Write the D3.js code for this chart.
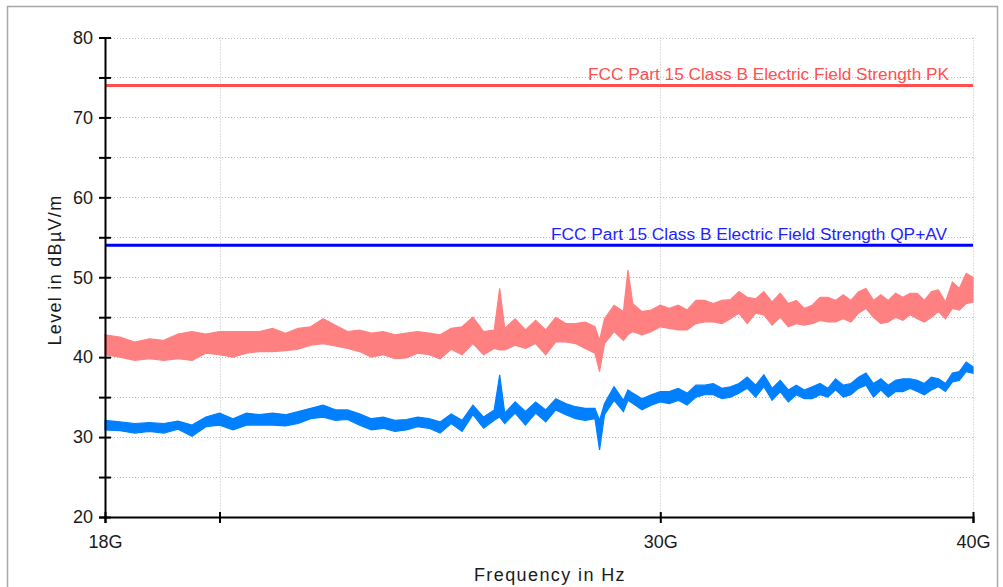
<!DOCTYPE html>
<html>
<head>
<meta charset="utf-8">
<script src="https://cdn.jsdelivr.net/npm/d3@7/dist/d3.min.js"></script>
<style>
  html, body { margin: 0; padding: 0; background: #ffffff; }
  svg { display: block; }
  text { font-family: "Liberation Sans", Arial, sans-serif; fill: #1a1a1a; }
</style>
</head>
<body>
<svg id="chart" width="1003" height="587"></svg>
<script>
// ---------- data ----------
const freqGHz = [18,18.25,18.5,18.75,19,19.25,19.5,19.75,20,20.25,20.5,20.75,21,21.25,21.5,21.75,22,22.25,22.5,22.75,
  23,23.25,23.5,23.75,24,24.25,24.5,24.75,25,25.25,25.5,25.75,25.88,26,26.25,26.5,26.75,27,27.25,27.5,27.75,28,28.25,28.37,
  28.5,28.75,29,29.12,29.25,29.5,29.75,30,30.25,30.5,30.75,31,31.25,31.5,31.75,32,32.25,32.5,32.75,33,33.25,33.5,33.75,
  34,34.25,34.5,34.75,35,35.25,35.5,35.75,36,36.25,36.5,36.75,37,37.25,37.5,37.75,38,38.25,38.5,38.75,39,39.25,39.5,39.75,40];

const pkMax = [42.8,42.5,41.9,42.3,42.1,42.9,43.2,42.9,43.2,43.2,43.2,43.2,43.6,43.0,43.6,43.8,44.8,44.0,43.2,43.4,
  43.0,43.2,42.8,43.0,43.2,43.0,42.8,43.6,43.8,45.0,43.2,43.4,48.6,43.6,44.8,43.4,44.6,43.4,45.0,44.2,44.2,44.4,43.8,42.1,
  44.8,46.5,45.7,50.9,46.7,45.7,45.9,46.5,46.1,46.5,45.9,47.1,47.1,46.7,47.1,47.2,48.2,47.5,47.3,48.2,46.9,48.0,46.7,
  47.1,46.1,46.5,47.5,47.5,47.1,47.8,47.1,48.2,48.6,47.1,47.8,47.1,48.0,47.5,48.0,48.0,47.1,48.2,48.4,46.9,49.4,48.6,50.5,50.0];

const pkMin = [40.3,40.0,39.6,39.8,39.6,39.8,39.6,40.5,40.3,40.0,40.5,40.7,40.7,40.8,41.0,41.5,41.7,41.4,41.1,40.7,
  40.0,40.3,39.8,39.9,40.5,40.3,39.8,41.0,40.3,41.7,40.3,41.1,40.9,40.9,41.5,41.1,41.7,40.3,41.9,41.9,41.7,41.1,40.5,38.2,
  41.7,43.2,42.1,42.8,43.2,42.8,43.2,43.8,43.6,43.4,43.4,44.2,44.4,44.4,44.2,44.8,45.5,44.2,45.5,45.3,44.0,45.0,43.8,
  44.2,44.0,44.2,44.6,44.4,44.4,44.8,44.4,45.5,46.1,45.0,44.2,44.4,45.0,44.6,45.3,44.8,44.4,45.0,45.7,44.8,46.1,45.9,46.7,46.9];

const avMax = [32.1,31.9,31.7,31.8,31.7,32.0,31.5,32.5,33.0,32.3,33.0,32.8,33.0,32.8,33.2,33.6,34.0,33.4,33.4,32.9,
  32.3,32.5,32.1,32.2,32.5,32.3,31.9,32.9,32.1,34.0,32.5,33.4,37.8,33.0,34.4,33.2,34.4,33.4,34.8,34.2,33.8,33.6,33.6,32.1,
  34.2,36.3,34.6,35.9,35.5,34.8,35.3,35.7,35.7,36.1,35.5,36.5,36.5,36.7,36.1,36.3,36.7,37.5,36.5,37.8,36.1,37.1,35.9,
  36.5,35.9,36.3,36.7,36.1,37.3,36.5,36.7,37.5,38.0,36.7,37.3,36.5,37.1,37.3,37.3,37.1,36.7,37.5,37.3,36.7,38.0,38.2,39.4,38.8];

const avMin = [30.9,30.8,30.5,30.7,30.5,31.0,30.1,31.3,31.5,30.9,31.5,31.5,31.5,31.4,31.7,32.3,32.5,32.1,32.2,31.5,
  30.9,31.1,30.7,30.9,31.3,31.1,30.5,31.7,30.7,32.8,31.1,32.1,32.5,31.7,33.0,31.5,33.0,31.9,33.4,32.8,32.3,32.1,32.3,28.4,
  32.8,34.6,33.2,34.6,34.2,33.4,34.0,34.4,34.2,34.6,34.0,35.0,35.3,35.3,34.8,35.0,35.5,36.1,35.0,36.3,34.6,35.7,34.4,
  35.3,34.8,34.8,35.3,35.0,35.9,35.0,35.3,36.1,36.5,35.0,35.9,35.0,35.7,35.7,36.1,35.7,35.3,35.9,36.3,35.7,36.9,37.1,38.2,38.0];

const limitPK = 74;
const limitAV = 54;
const limitPKLabel = "FCC Part 15 Class B Electric Field Strength PK";
const limitAVLabel = "FCC Part 15 Class B Electric Field Strength QP+AV";

const yMajorTicks = [20,30,40,50,60,70,80];
const yMinorTicks = [25,35,45,55,65,75];
const xTicks = [18,20,30,40];
const xTickLabels = ["18G","","30G","40G"];
const xGrid = [20,30,40];

// ---------- layout ----------
const svg = d3.select("#chart");
const x = d3.scaleLog().domain([18,40]).range([105,973]);
const y = d3.scaleLinear().domain([20,80]).range([517,37.5]);

// outer frame
svg.append("rect").attr("x",7.5).attr("y",6.5).attr("width",990).attr("height",600)
  .attr("fill","none").attr("stroke","#a8a8a8").attr("stroke-width",1.5);

// grid
const grid = svg.append("g").attr("stroke","#bdbdbd").attr("stroke-width",1).attr("stroke-dasharray","1,2");
grid.selectAll("line.h").data(yMajorTicks.concat(yMinorTicks).filter(d=>d>20)).join("line")
  .attr("x1",x(18)).attr("x2",x(40)).attr("y1",d=>Math.round(y(d))+0.5).attr("y2",d=>Math.round(y(d))+0.5);
grid.selectAll("line.v").data(xGrid).join("line")
  .attr("x1",d=>Math.round(x(d))+0.5).attr("x2",d=>Math.round(x(d))+0.5).attr("y1",y(80)).attr("y2",y(20));

// limit lines
svg.append("line").attr("x1",x(18)).attr("x2",x(40)).attr("y1",y(limitPK)).attr("y2",y(limitPK))
  .attr("stroke","#ff5050").attr("stroke-width",3);
svg.append("line").attr("x1",x(18)).attr("x2",x(40)).attr("y1",y(limitAV)).attr("y2",y(limitAV))
  .attr("stroke","#0000ff").attr("stroke-width",3);
svg.append("text").attr("x",949).attr("y",y(limitPK)-5).attr("text-anchor","end")
  .style("font-size","16px").style("fill","#ff5050")
  .attr("textLength",361).attr("lengthAdjust","spacingAndGlyphs").text(limitPKLabel);
svg.append("text").attr("x",947).attr("y",y(limitAV)-5).attr("text-anchor","end")
  .style("font-size","16px").style("fill","#1f1fff")
  .attr("textLength",396).attr("lengthAdjust","spacingAndGlyphs").text(limitAVLabel);

// traces
const idx = d3.range(freqGHz.length);
const pkArea = d3.area().x(i=>x(freqGHz[i])).y0(i=>y(pkMin[i])).y1(i=>y(pkMax[i]));
const avArea = d3.area().x(i=>x(freqGHz[i])).y0(i=>y(avMin[i])).y1(i=>y(avMax[i]));
svg.append("path").attr("d",pkArea(idx)).attr("fill","#ff8080").attr("stroke","#ff8080").attr("stroke-width",1.2);
svg.append("path").attr("d",avArea(idx)).attr("fill","#0080ff").attr("stroke","#0080ff").attr("stroke-width",1.2);

// y axis
const yAxis = d3.axisLeft(y).tickValues(yMajorTicks.concat(yMinorTicks)).tickSize(6).tickPadding(6)
  .tickFormat(d => d % 10 === 0 ? d : "");
const gy = svg.append("g").attr("transform","translate(105,0)").call(yAxis);
gy.select(".domain").attr("stroke","#000").attr("stroke-width",2);
gy.selectAll(".tick line").attr("x1",6).attr("x2",-6).attr("stroke","#000").attr("stroke-width",2);
gy.selectAll(".tick text").style("font-size","18px").style("font-family","Liberation Sans, Arial, sans-serif").attr("fill","#1a1a1a");

// x axis
const xAxis = d3.axisBottom(x).tickValues(xTicks).tickSize(6)
  .tickFormat((d,i) => xTickLabels[i]);
const gx = svg.append("g").attr("transform","translate(0,517)").call(xAxis);
gx.select(".domain").attr("stroke","#000").attr("stroke-width",2);
gx.selectAll(".tick line").attr("y1",-5).attr("y2",6).attr("stroke","#000").attr("stroke-width",2);
gx.selectAll(".tick text").attr("y",31).attr("dy",0).style("font-size","18px")
  .style("font-family","Liberation Sans, Arial, sans-serif").attr("fill","#1a1a1a");

// axis titles
svg.append("text").attr("x",550).attr("y",581).attr("text-anchor","middle")
  .style("font-size","18px").style("letter-spacing","1.4px").text("Frequency in Hz");
svg.append("text").attr("transform","translate(61,270) rotate(-90)").attr("text-anchor","middle")
  .style("font-size","18px").style("letter-spacing","1.3px").text("Level in dBµV/m");
</script>
</body>
</html>
